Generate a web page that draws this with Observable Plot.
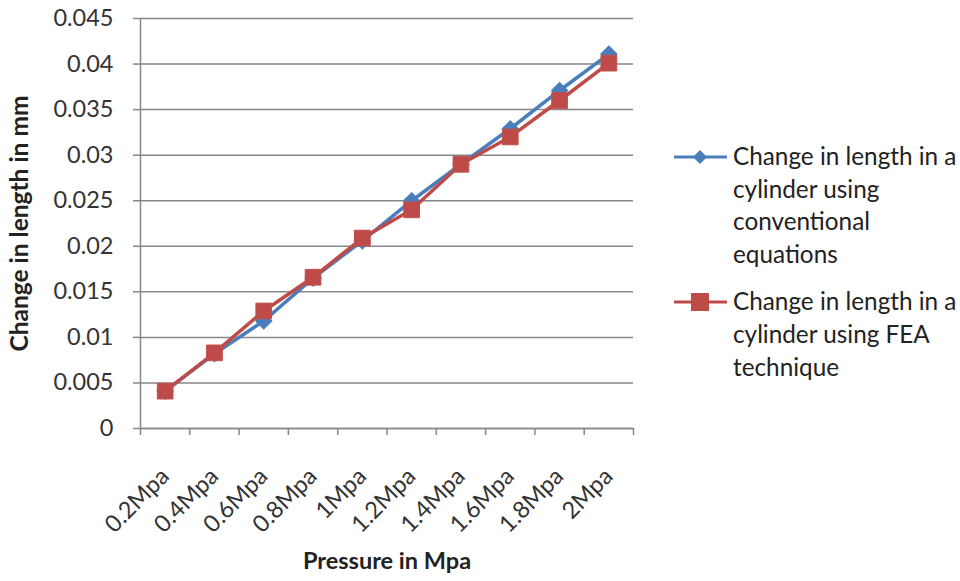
<!DOCTYPE html>
<html>
<head>
<meta charset="utf-8">
<script src="https://cdn.jsdelivr.net/npm/d3@7"></script>
<script src="https://cdn.jsdelivr.net/npm/@observablehq/plot@0.6"></script>
<style>
  html, body { margin: 0; padding: 0; background: #fff; }
  #wrap { position: relative; width: 960px; height: 581px; font-family: Lato, "Open Sans", sans-serif; }
  #legend { position: absolute; left: 672px; top: 140px; font-size: 24.3px; color: #222; line-height: 32.6px; white-space: nowrap; }
  .entry { display: flex; align-items: flex-start; margin-bottom: 15px; }
  .entry svg { flex: none; margin-top: 6px; margin-right: 4px; }
</style>
</head>
<body>
<div id="wrap"></div>
<script>
const categories = ["0.2Mpa", "0.4Mpa", "0.6Mpa", "0.8Mpa", "1Mpa", "1.2Mpa", "1.4Mpa", "1.6Mpa", "1.8Mpa", "2Mpa"];
const conventional = [0.0041, 0.0082, 0.0118, 0.0165, 0.0206, 0.0250, 0.0290, 0.0329, 0.0371, 0.0411];
const fea = [0.0041, 0.0083, 0.0129, 0.0166, 0.0209, 0.0240, 0.0290, 0.0320, 0.0360, 0.0401];
const yTicks = [0, 0.005, 0.01, 0.015, 0.02, 0.025, 0.03, 0.035, 0.04, 0.045];
const seriesNames = ["Change in length in a cylinder using conventional equations", "Change in length in a cylinder using FEA technique"];
const xTitle = "Pressure in Mpa";
const yTitle = "Change in length in mm";

const blue = "#4a7ebb", red = "#be4b48", grid = "#878787";
const idx = categories.map((_, i) => i);
const bounds = d3.range(categories.length + 1).map(i => i - 0.5);
const convData = idx.map(i => ({i, v: conventional[i]}));
const feaData = idx.map(i => ({i, v: fea[i]}));

const chart = Plot.plot({
  width: 960,
  height: 581,
  marginLeft: 140,
  marginRight: 327,
  marginTop: 18,
  marginBottom: 153,
  style: {fontFamily: "Lato, 'Open Sans', sans-serif", fontSize: "23px", color: "#333", background: "#fff"},
  x: {type: "linear", domain: [-0.5, categories.length - 0.5]},
  y: {domain: [0, 0.045]},
  marks: [
    Plot.gridY(yTicks, {stroke: grid, strokeOpacity: 1, strokeWidth: 1.5}),
    Plot.ruleX([-0.5], {stroke: grid, strokeWidth: 1.5}),
    Plot.ruleY([0], {stroke: grid, strokeWidth: 1.5}),
    Plot.axisY(yTicks, {tickSize: 7, tickPadding: 20, stroke: grid, strokeWidth: 1.5, tickFormat: d => String(+d.toFixed(3)), fontSize: 23.5, fill: "#333", label: null}),
    Plot.axisX(bounds, {tickSize: 7, stroke: grid, strokeWidth: 1.5, tickFormat: () => "", label: null}),
    Plot.axisX(idx, {tickSize: 0, tickPadding: 44, tickRotate: -45, tickFormat: i => categories[i], fontSize: 23.5, fill: "#333", label: null}),
    Plot.line(convData, {x: "i", y: "v", stroke: blue, strokeWidth: 3.5}),
    Plot.dot(convData, {x: "i", y: "v", symbol: "diamond2", r: 7, fill: blue, stroke: blue}),
    Plot.line(feaData, {x: "i", y: "v", stroke: red, strokeWidth: 3.5}),
    Plot.dot(feaData, {x: "i", y: "v", symbol: "square2", r: 10, fill: red, stroke: "#c0504d", strokeWidth: 1}),
    Plot.text([xTitle], {frameAnchor: "bottom", dy: 140, fontWeight: "bold", fontSize: 23.5, fill: "#222"}),
    Plot.text([yTitle], {frameAnchor: "left", textAnchor: "middle", dx: -120, rotate: -90, fontWeight: "bold", fontSize: 24.5, fill: "#222", letterSpacing: "0.6px"})
  ]
});
const wrap = document.getElementById("wrap");
wrap.appendChild(chart);

const legend = document.createElement("div");
legend.id = "legend";
const markers = [
  `<svg width="57" height="22"><line x1="2" y1="11" x2="55" y2="11" stroke="${blue}" stroke-width="3"/><path d="M28 4 L35 11 L28 18 L21 11 Z" fill="${blue}"/></svg>`,
  `<svg width="57" height="22"><line x1="2" y1="11" x2="55" y2="11" stroke="${red}" stroke-width="3"/><rect x="19" y="2" width="18" height="18" fill="${red}"/></svg>`
];
const lines = [["Change in length in a", "cylinder using", "conventional", "equations"], ["Change in length in a", "cylinder using FEA", "technique"]];
seriesNames.forEach((name, k) => {
  const e = document.createElement("div");
  e.className = "entry";
  e.innerHTML = markers[k] + `<div>${lines[k].join("<br>")}</div>`;
  legend.appendChild(e);
});
wrap.appendChild(legend);
</script>
</body>
</html>
